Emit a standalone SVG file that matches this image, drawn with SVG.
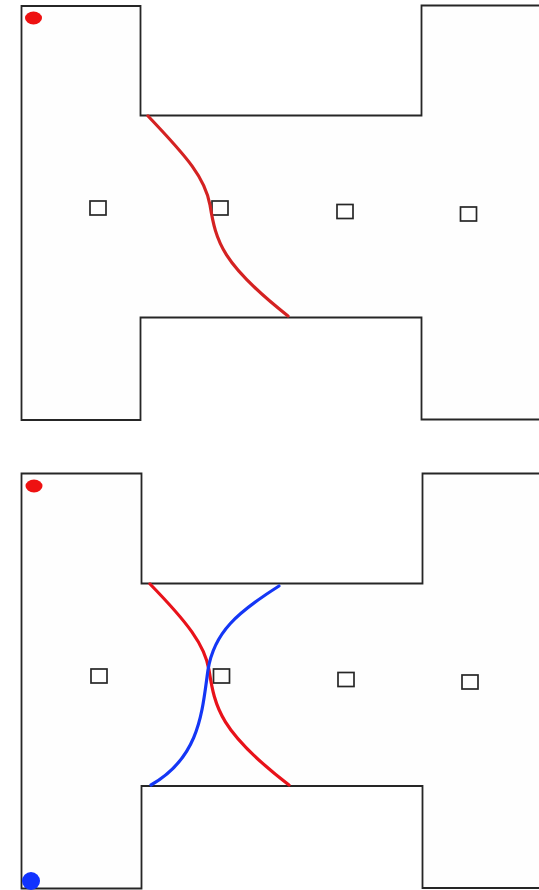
<svg xmlns="http://www.w3.org/2000/svg" width="539" height="890" viewBox="0 0 539 890">
<style>
.wall{fill:#fefefe;stroke:#262626;stroke-width:1.8;stroke-linejoin:miter}
.box{fill:none;stroke:#262626;stroke-width:1.7}
.red{fill:none;stroke:#e8121a;stroke-width:3.2;stroke-linecap:round}
.redd{fill:none;stroke:#d42222;stroke-width:3.2;stroke-linecap:round}
.blue{fill:none;stroke:#1436f5;stroke-width:3.2;stroke-linecap:round}
</style>
<rect width="539" height="890" fill="#ffffff"/>
<g id="panel-top">
  <path class="wall" d="M21.5,6 H140.5 V115.5 H421.5 V5.5 H545 V419.5 H421.5 V317.5 H140.5 V420 H21.5 Z"/>
  <ellipse cx="33.5" cy="18" rx="8.5" ry="6.5" fill="#ee1111"/>
  <g id="top-boxes">
    <rect class="box" x="90" y="201" width="16" height="14"/>
    <rect class="box" x="212" y="201" width="16" height="14"/>
    <rect class="box" x="337" y="204.5" width="16" height="14"/>
    <rect class="box" x="460.5" y="207" width="16" height="14"/>
  </g>
  <path class="redd" d="M148,116 C188,158 205,178 210,205 C216,242 222,264 288,316"/>
</g>
<g id="panel-bottom">
  <path class="wall" d="M21.5,473.5 H141.5 V583.5 H422.5 V473.5 H545 V888 H422.5 V786 H141.5 V888.5 H21.5 Z"/>
  <ellipse cx="34" cy="486" rx="8.5" ry="6.5" fill="#ee1111"/>
  <circle cx="31" cy="881" r="9" fill="#1133ff"/>
  <g id="bottom-boxes">
    <rect class="box" x="91" y="669" width="16" height="14"/>
    <rect class="box" x="213.5" y="669" width="16" height="14"/>
    <rect class="box" x="338" y="672.5" width="16" height="14"/>
    <rect class="box" x="462" y="675" width="16" height="14"/>
  </g>
  <g id="connectors">
    <path class="red" d="M150,584 C187,622 205,645 209,670 C215,708 220,732 289,785"/>
    <path class="blue" d="M279,586 C238,612 214,632 208,670 C202,712 200,757 151,785"/>
  </g>
</g>
</svg>
